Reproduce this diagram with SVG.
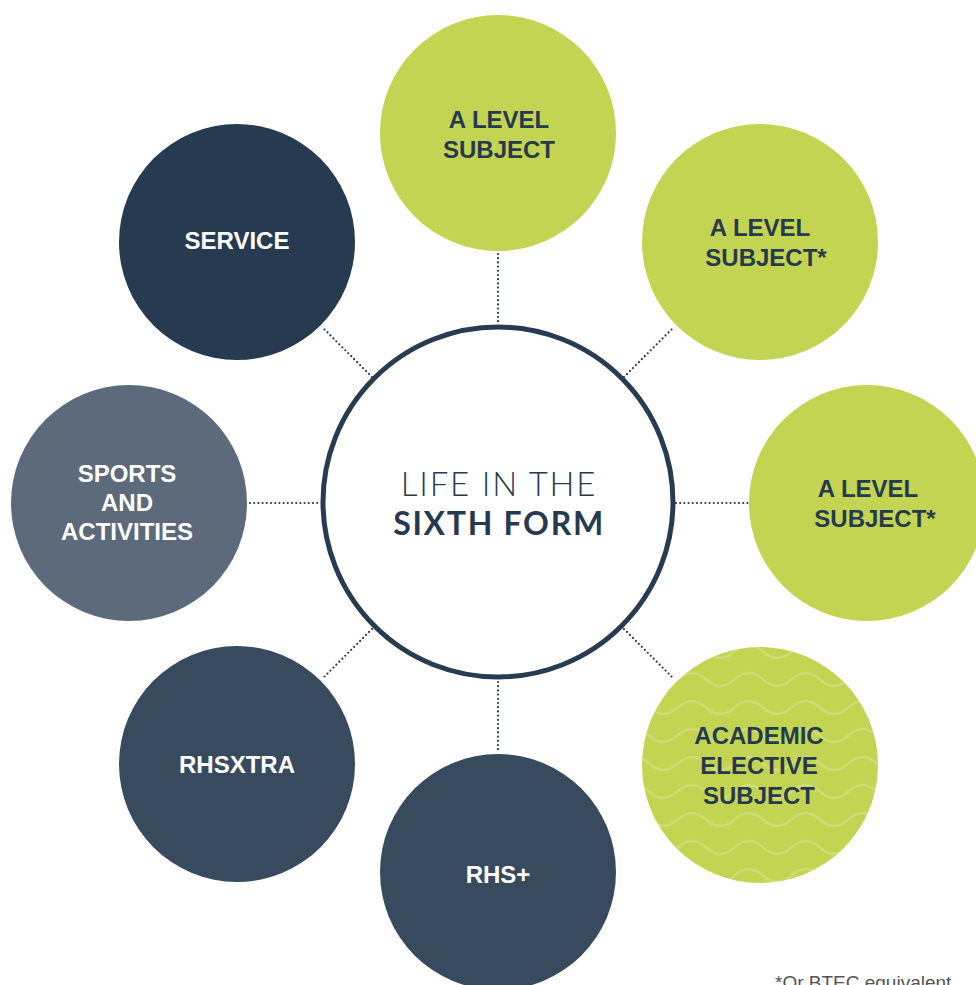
<svg xmlns="http://www.w3.org/2000/svg" width="976" height="985" viewBox="0 0 976 985">
<defs>
<style>
.green{fill:#C3D452}
.navy{fill:#263B50}
.slate{fill:#384B5E}
.grey{fill:#5C6A7C}
.lbl{font-family:"Liberation Sans",Arial,sans-serif;font-weight:700;font-size:24px;text-anchor:middle}
.dk{fill:#263A4F}
.wt{fill:#FFFFFF}
.con{stroke:#263A4F;stroke-width:2.2;stroke-linecap:round;stroke-dasharray:0 4.2;fill:none}
</style>
<pattern id="waves" patternUnits="userSpaceOnUse" x="677.5" y="805.5" width="57" height="28">
<path d="M0 14 Q14.25 1 28.5 14 T57 14" fill="none" stroke="#FFFFFF" stroke-opacity="0.25" stroke-width="2"/>
</pattern>
<clipPath id="acClip"><circle cx="760" cy="765" r="118"/></clipPath>
</defs>
<rect width="976" height="985" fill="#FFFFFF"/>
<g id="connectors">
<line class="con" x1="498" y1="254" x2="498" y2="324"/>
<line class="con" x1="624" y1="377" x2="674" y2="327"/>
<line class="con" x1="676" y1="503" x2="748" y2="503"/>
<line class="con" x1="624" y1="629" x2="674" y2="679"/>
<line class="con" x1="498" y1="682" x2="498" y2="752"/>
<line class="con" x1="372" y1="629" x2="322" y2="679"/>
<line class="con" x1="250" y1="503" x2="320" y2="503"/>
<line class="con" x1="372" y1="377" x2="322" y2="327"/>
</g>
<g id="center">
<circle cx="498" cy="502" r="175" fill="#FFFFFF" stroke="#273C51" stroke-width="5"/>
<text x="499" y="496" style="font-family:'Lato','Liberation Sans',sans-serif;font-weight:300;font-size:33px;letter-spacing:1.8px;text-anchor:middle" class="dk">LIFE IN THE</text>
<text x="499" y="535" style="font-family:'Lato','Liberation Sans',sans-serif;font-weight:700;font-size:32px;letter-spacing:1.7px;text-anchor:middle" class="dk">SIXTH FORM</text>
</g>
<g id="a-level-1">
<circle class="green" cx="498" cy="133" r="118"/>
<text class="lbl dk" x="499" y="128">A LEVEL</text>
<text class="lbl dk" x="499" y="158">SUBJECT</text>
</g>
<g id="a-level-2">
<circle class="green" cx="760" cy="242" r="118"/>
<text class="lbl dk" x="760" y="236">A LEVEL</text>
<text class="lbl dk" x="766" y="266">SUBJECT*</text>
</g>
<g id="a-level-3">
<circle class="green" cx="867" cy="503" r="118"/>
<text class="lbl dk" x="868" y="497">A LEVEL</text>
<text class="lbl dk" x="875" y="527">SUBJECT*</text>
</g>
<g id="academic-elective">
<circle class="green" cx="760" cy="765" r="118"/>
<rect x="640" y="645" width="240" height="240" fill="url(#waves)" clip-path="url(#acClip)"/>
<text class="lbl dk" x="759" y="744">ACADEMIC</text>
<text class="lbl dk" x="759" y="774">ELECTIVE</text>
<text class="lbl dk" x="759" y="804">SUBJECT</text>
</g>
<g id="rhs-plus">
<circle class="slate" cx="498" cy="872" r="118"/>
<text class="lbl wt" x="498" y="883">RHS+</text>
</g>
<g id="rhsxtra">
<circle class="slate" cx="237" cy="764" r="118"/>
<text class="lbl wt" x="237" y="773">RHSXTRA</text>
</g>
<g id="sports">
<circle class="grey" cx="129" cy="503" r="118"/>
<text class="lbl wt" x="127" y="482">SPORTS</text>
<text class="lbl wt" x="127" y="511">AND</text>
<text class="lbl wt" x="127" y="540">ACTIVITIES</text>
</g>
<g id="service">
<circle class="navy" cx="237" cy="242" r="118"/>
<text class="lbl wt" x="237" y="249">SERVICE</text>
</g>
<g id="footnote">
<text x="775" y="989" style="font-family:'Liberation Sans',Arial,sans-serif;font-size:19px" fill="#555555">*Or BTEC equivalent</text>
</g>
</svg>
